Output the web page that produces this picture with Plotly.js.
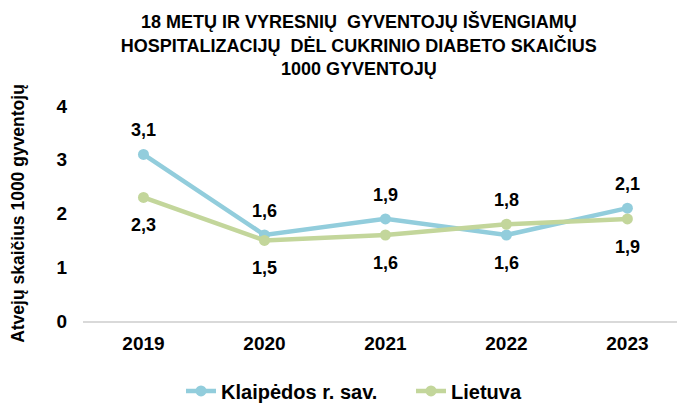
<!DOCTYPE html>
<html><head><meta charset="utf-8">
<script src="https://cdn.plot.ly/plotly-3.0.1.min.js"></script>
<style>html,body{margin:0;padding:0;background:#fff;}#chart{width:677px;height:403px;}</style>
</head><body><div id="chart"></div>
<script>
const years = ['2019','2020','2021','2022','2023'];
const klaipeda = [3.1, 1.6, 1.9, 1.6, 2.1];
const lietuva = [2.3, 1.5, 1.6, 1.8, 1.9];
// +1 = label above the point, -1 = label below
const klaipedaSide = [1, 1, 1, -1, 1];
const lietuvaSide = [-1, -1, -1, 1, -1];
const seriesNames = ['Klaipėdos r. sav.', 'Lietuva'];
const titleText = '18 METŲ IR VYRESNIŲ  GYVENTOJŲ IŠVENGIAMŲ<br>HOSPITALIZACIJŲ  DĖL CUKRINIO DIABETO SKAIČIUS<br>1000 GYVENTOJŲ';
const yTitle = 'Atvejų skaičius 1000 gyventojų';

const F = 'Liberation Sans, Arial, sans-serif';
const lblFont = {family: F, size: 18, color: '#000', weight: 'bold'};

const traces = [
  {x: years, y: klaipeda, name: seriesNames[0], type: 'scatter', mode: 'lines+markers',
   line: {color: '#92CDDC', width: 4.5}, marker: {color: '#92CDDC', size: 11}, cliponaxis: false, hoverinfo: 'none'},
  {x: years, y: lietuva, name: seriesNames[1], type: 'scatter', mode: 'lines+markers',
   line: {color: '#C3D69B', width: 4.5}, marker: {color: '#C3D69B', size: 11}, cliponaxis: false, hoverinfo: 'none'}
];

function fmt(v) { return v.toFixed(1).replace('.', ','); }
const annotations = [];
[[klaipeda, klaipedaSide], [lietuva, lietuvaSide]].forEach(([vals, side]) => {
  vals.forEach((v, i) => {
    // on a category axis, annotation x is the category's serial index
    annotations.push({x: years.indexOf(years[i]), y: v, xref: 'x', yref: 'y', text: fmt(v), showarrow: false,
      font: lblFont, xanchor: 'center', yanchor: 'middle', yshift: side[i] > 0 ? 24 : -28});
  });
});

const layout = {
  width: 677, height: 403,
  paper_bgcolor: '#fff', plot_bgcolor: '#fff',
  margin: {l: 83, r: 0, t: 106, b: 82},
  font: {family: F, color: '#000'},
  title: {text: titleText, font: {family: F, size: 18, color: '#000', weight: 'bold'},
          xref: 'container', x: 0.53, xanchor: 'center', yref: 'container', y: 0.93, yanchor: 'top'},
  xaxis: {type: 'category', range: [-0.5, 4.41], showgrid: false, zeroline: false,
          showline: true, linecolor: '#D9D9D9', linewidth: 1.5, ticks: '',
          ticklabelstandoff: 5,
          tickfont: {family: F, size: 19, color: '#000', weight: 'bold'}},
  yaxis: {range: [0, 4], dtick: 1, showgrid: false, zeroline: false, showline: false, ticks: '',
          ticklabelstandoff: 15,
          tickfont: {family: F, size: 19, color: '#000', weight: 'bold'},
          title: {text: yTitle, font: {family: F, size: 17.5, color: '#000', weight: 'bold'}, standoff: 27}},
  annotations: annotations,
  showlegend: true,
  legend: {orientation: 'h', x: 0.165, xanchor: 'left', yref: 'container', y: 0.03, yanchor: 'middle',
           font: {family: F, size: 20, color: '#000', weight: 'bold'}, entrywidth: 185,
           bgcolor: 'rgba(0,0,0,0)'}
};
Plotly.newPlot('chart', traces, layout, {displayModeBar: false, staticPlot: true});
</script></body></html>
